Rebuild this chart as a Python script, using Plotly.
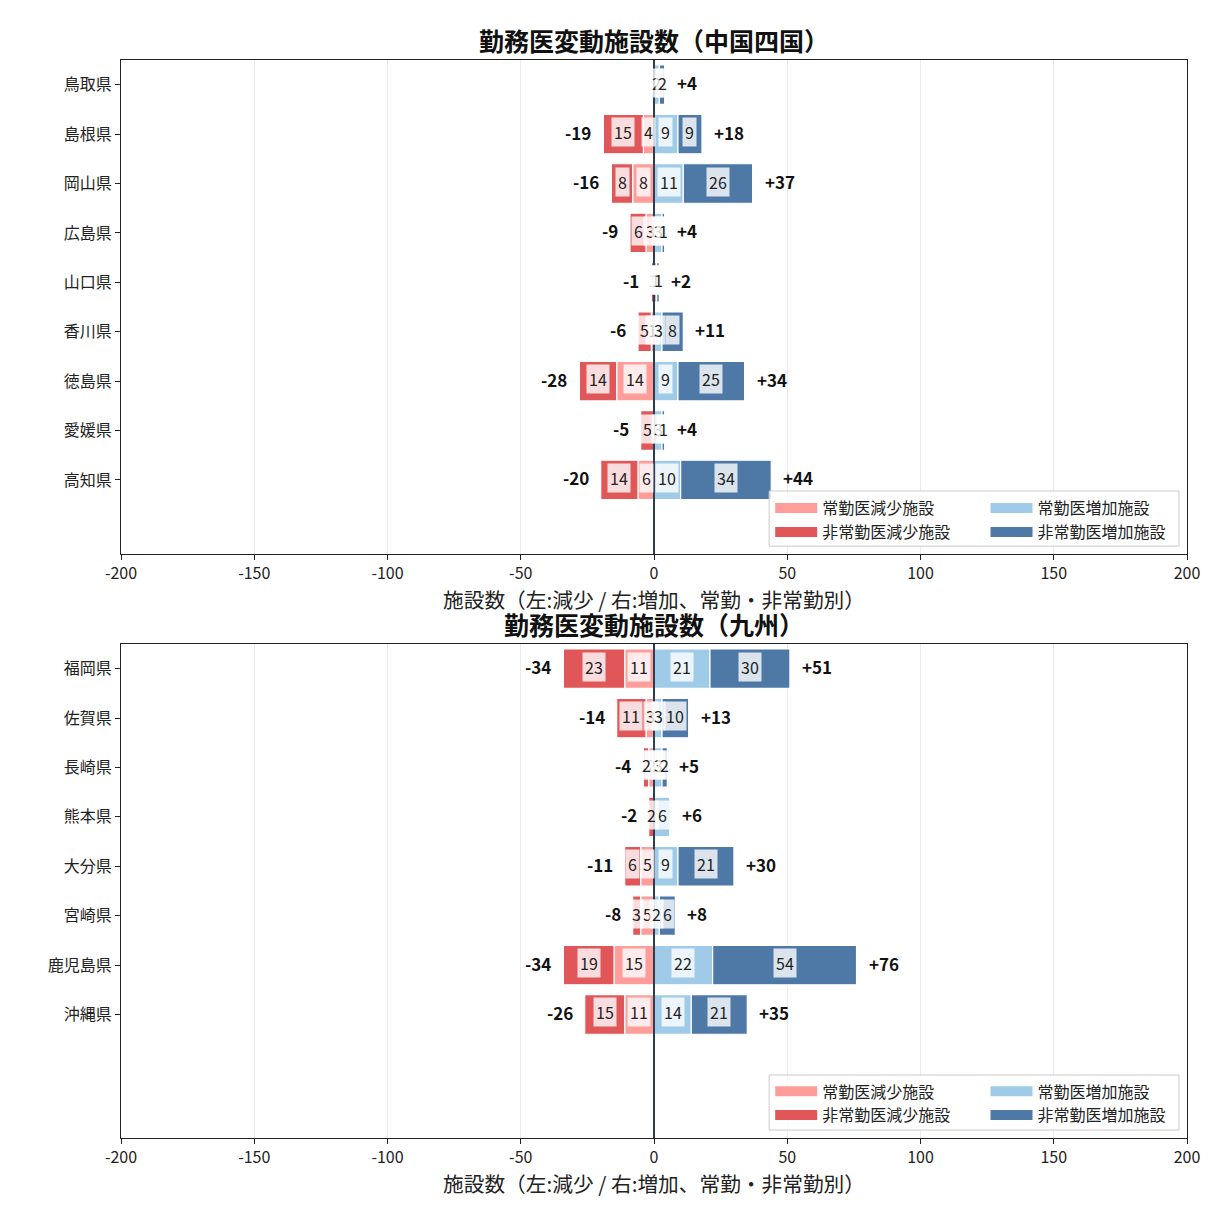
import plotly.graph_objects as go
from plotly.subplots import make_subplots

FONT = "Noto Sans CJK JP, DejaVu Sans, sans-serif"

# 中国四国
cs_pref = ["鳥取県", "島根県", "岡山県", "広島県", "山口県", "香川県", "徳島県", "愛媛県", "高知県"]
cs_reg_dec = [0, 4, 8, 3, 0, 1, 14, 0, 6]
cs_non_dec = [0, 15, 8, 6, 1, 5, 14, 5, 14]
cs_reg_inc = [2, 9, 11, 3, 1, 3, 9, 3, 10]
cs_non_inc = [2, 9, 26, 1, 1, 8, 25, 1, 34]

# 九州
ky_pref = ["福岡県", "佐賀県", "長崎県", "熊本県", "大分県", "宮崎県", "鹿児島県", "沖縄県"]
ky_reg_dec = [11, 3, 2, 0, 5, 5, 15, 11]
ky_non_dec = [23, 11, 2, 2, 6, 3, 19, 15]
ky_reg_inc = [21, 3, 3, 6, 9, 2, 22, 14]
ky_non_inc = [30, 10, 2, 0, 21, 6, 54, 21]

titles = ["勤務医変動施設数（中国四国）", "勤務医変動施設数（九州）"]
x_title = "施設数（左:減少 / 右:増加、常勤・非常勤別）"
x_ticks = [-200, -150, -100, -50, 0, 50, 100, 150, 200]

c_reg_dec = "#FF9D9A"
c_non_dec = "#E15759"
c_reg_inc = "#A0CBE8"
c_non_inc = "#4E79A7"

fig = make_subplots(rows=2, cols=1)


def add_panel(row, prefs, reg_dec, non_dec, reg_inc, non_inc, leg_a, leg_b):
    xa = "x" if row == 1 else "x2"
    ya = "y" if row == 1 else "y2"
    series = [
        ("常勤医減少施設", [-v for v in reg_dec], c_reg_dec, leg_a),
        ("非常勤医減少施設", [-v for v in non_dec], c_non_dec, leg_a),
        ("常勤医増加施設", reg_inc, c_reg_inc, leg_b),
        ("非常勤医増加施設", non_inc, c_non_inc, leg_b),
    ]
    for i, (name, vals, col, leg) in enumerate(series):
        fig.add_trace(go.Bar(
            y=prefs, x=vals, name=name, orientation="h", width=0.8,
            marker=dict(color=col, line=dict(color="white", width=1.2)),
            legendgroup=f"{row}-{i}", showlegend=False, hoverinfo="x+y+name",
        ), row=row, col=1)
        # legend-only proxy so the swatch is a wide bar like the original
        fig.add_trace(go.Scatter(
            x=[None], y=[None], mode="lines", name=name,
            line=dict(color=col, width=10),
            legend=leg, legendgroup=f"{row}-{i}",
        ), row=row, col=1)

    # segment labels
    for p, rd, nd, ri, ni in zip(prefs, reg_dec, non_dec, reg_inc, non_inc):
        segs = [(-rd / 2, rd), (-rd - nd / 2, nd), (ri / 2, ri), (ri + ni / 2, ni)]
        for cx, v in segs:
            if v > 0:
                fig.add_annotation(
                    x=cx, y=p, xref=xa, yref=ya, text=str(v), showarrow=False,
                    font=dict(size=16, color="#222222", family=FONT),
                    bgcolor="rgba(255,255,255,0.8)", borderpad=2, yshift=2,
                )
        dec = rd + nd
        inc = ri + ni
        if dec > 0:
            fig.add_annotation(
                x=-dec, y=p, xref=xa, yref=ya, text=f"<b>-{dec}</b>", showarrow=False,
                xanchor="right", xshift=-10, yshift=2,
                font=dict(size=17, color="#111111", family=FONT),
            )
        if inc > 0:
            fig.add_annotation(
                x=inc, y=p, xref=xa, yref=ya, text=f"<b>+{inc}</b>", showarrow=False,
                xanchor="left", xshift=10, yshift=2,
                font=dict(size=17, color="#111111", family=FONT),
            )

    # zero line above bars
    fig.add_shape(type="line", xref=xa, yref=f"{ya} domain", x0=0, x1=0, y0=0, y1=1,
                  line=dict(color="#2c3e50", width=2), layer="above")


add_panel(1, cs_pref, cs_reg_dec, cs_non_dec, cs_reg_inc, cs_non_inc, "legend", "legend2")
add_panel(2, ky_pref, ky_reg_dec, ky_non_dec, ky_reg_inc, ky_non_inc, "legend3", "legend4")

top_dom = [0.5417, 1.0]
bot_dom = [0.0, 0.4583]

axis_x = dict(
    range=[-200, 200], tickvals=x_ticks, ticktext=[str(t) for t in x_ticks],
    showgrid=True, gridcolor="#ebebeb", gridwidth=1, zeroline=False,
    showline=True, linecolor="#222222", linewidth=1.3, mirror=True,
    ticks="outside", ticklen=5, tickcolor="#222222", automargin=False,
    tickfont=dict(size=16, color="#222222", family=FONT),
    title=dict(text=x_title, font=dict(size=20.7, color="#222222", family=FONT), standoff=2),
)
axis_y = dict(
    type="category", range=[9.5, -0.5], showgrid=False, zeroline=False,
    showline=True, linecolor="#222222", linewidth=1.3, mirror=True,
    ticks="outside", ticklen=5, tickcolor="#222222", automargin=False,
    tickfont=dict(size=16, color="#222222", family=FONT),
)

# page body has an 8px margin, so the figure is drawn 8px in from the corner
fig.update_layout(
    width=1195, height=1195,
    margin=dict(l=113, r=16, t=52, b=65, autoexpand=False),
    paper_bgcolor="white", plot_bgcolor="white",
    barmode="relative", bargap=0.2,
    font=dict(family=FONT, size=16, color="#222222"),
    xaxis=dict(axis_x, domain=[0, 1]),
    xaxis2=dict(axis_x, domain=[0, 1]),
    yaxis=dict(axis_y, domain=top_dom, categoryarray=cs_pref),
    yaxis2=dict(axis_y, domain=bot_dom, categoryarray=ky_pref),
)

leg_style = dict(xanchor="left", yanchor="top", bgcolor="rgba(0,0,0,0)",
                 font=dict(size=16, color="#222222", family=FONT), tracegroupgap=0,
                 itemwidth=42)
fig.update_layout(
    legend=dict(leg_style, x=0.609, y=0.6),
    legend2=dict(leg_style, x=0.811, y=0.6),
    legend3=dict(leg_style, x=0.609, y=0.059),
    legend4=dict(leg_style, x=0.811, y=0.059),
)

# legend frames
for y0, y1 in [(0.549, 0.6002), (0.0074, 0.0584)]:
    fig.add_shape(type="rect", xref="paper", yref="paper", x0=0.608, x1=0.9925, y0=y0, y1=y1,
                  fillcolor="rgba(255,255,255,0.8)", line=dict(color="#cccccc", width=1),
                  layer="above")

# panel titles
for txt, yy in zip(titles, [1.0186, 0.4768]):
    fig.add_annotation(x=0.5, y=yy, xref="paper", yref="paper", text=f"<b>{txt}</b>",
                       showarrow=False, yanchor="middle",
                       font=dict(size=25, color="#111111", family=FONT))

fig.write_html("out.html")
